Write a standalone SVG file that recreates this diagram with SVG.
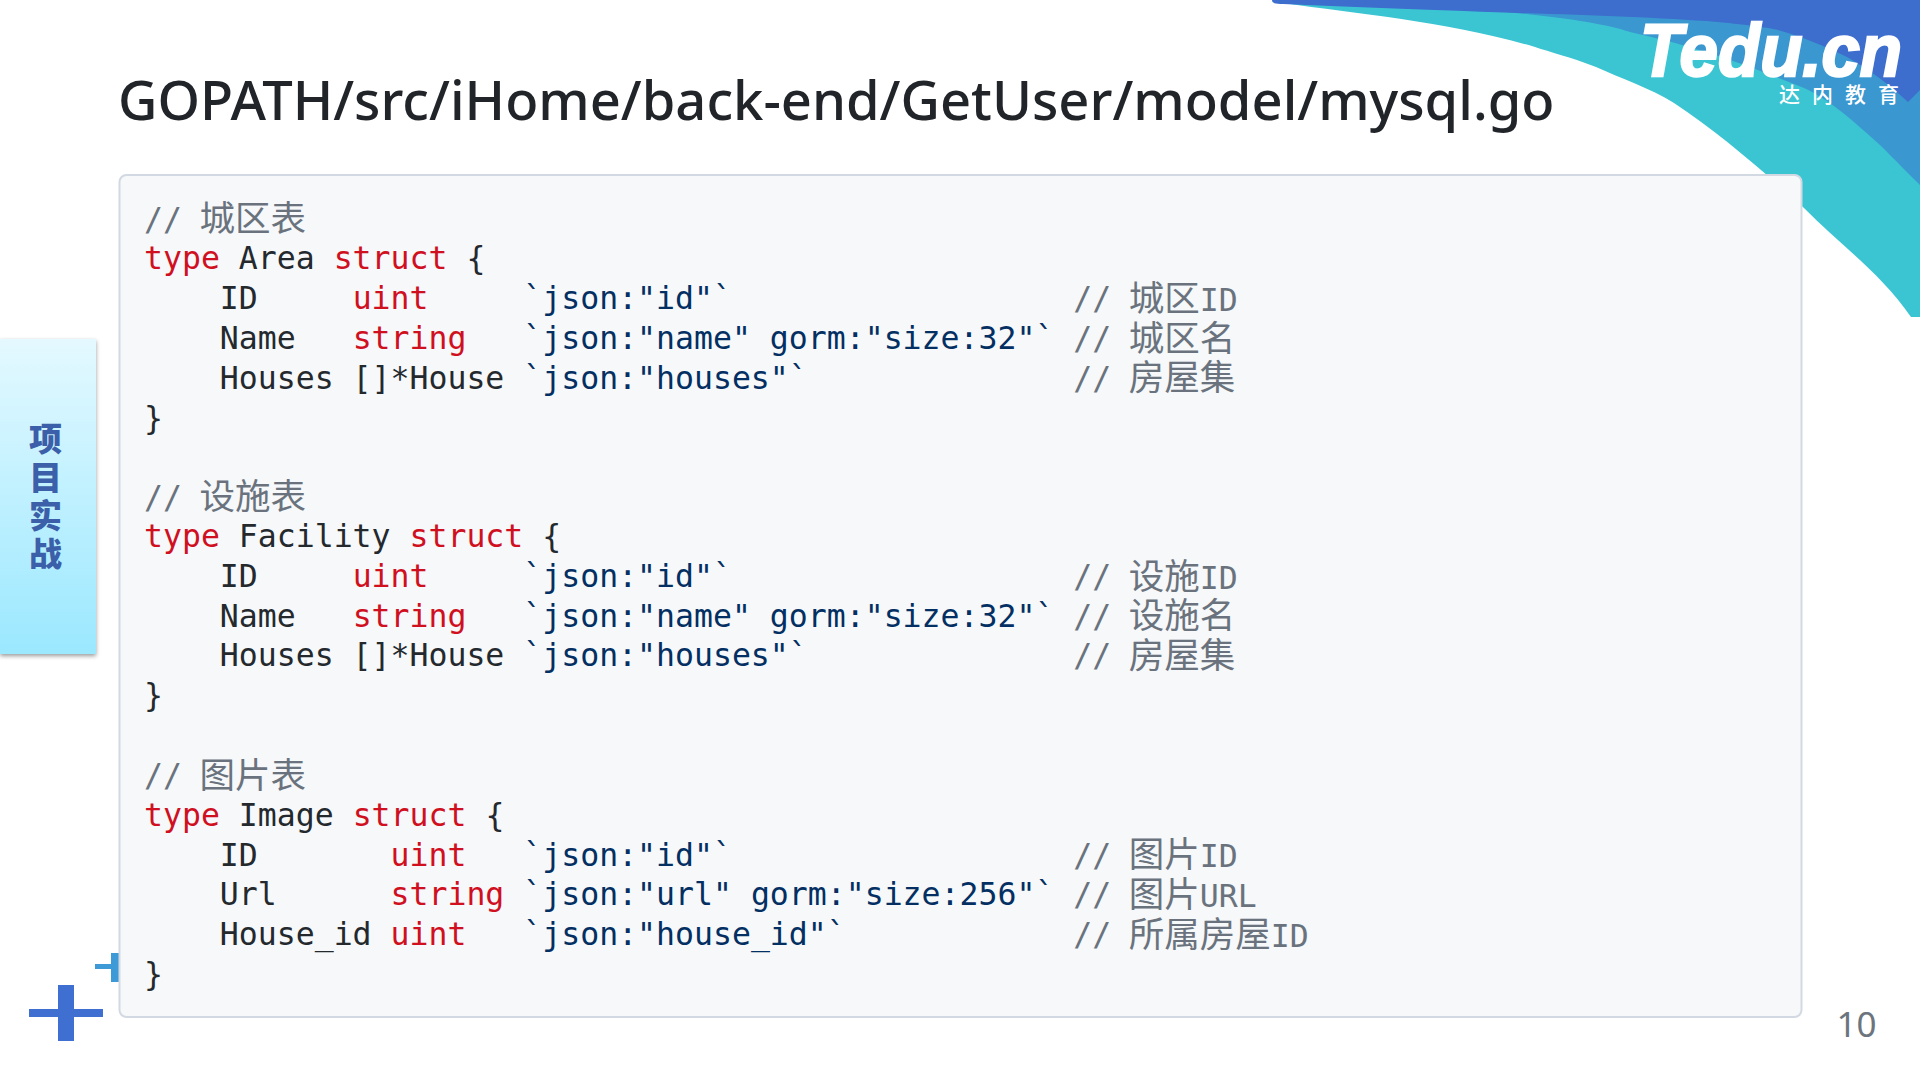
<svg xmlns="http://www.w3.org/2000/svg" width="1920" height="1080" viewBox="0 0 1920 1080">
<style>
.c{font-family:"DejaVu Sans Mono","Noto Sans CJK SC",monospace;font-size:31.5px;fill:#24292e;white-space:pre}
.k{fill:#d0101f}.s{fill:#032f62}.m{fill:#6a737d}
.z{font-family:"Noto Sans CJK SC",sans-serif;font-size:35.5px}
.sb{font-family:"Noto Sans CJK SC",sans-serif;font-weight:900;font-size:33px;fill:#3b5fa8;text-anchor:middle}
</style>
<defs>
<linearGradient id="g" x1="0" y1="0" x2="0" y2="1"><stop offset="0" stop-color="#e4f9ff"/><stop offset="1" stop-color="#9be8ff"/></linearGradient>
<filter id="sh" x="-20%" y="-5%" width="140%" height="110%"><feDropShadow dx="0" dy="2" stdDeviation="2" flood-color="#000" flood-opacity="0.4"/></filter>
</defs>
<rect width="1920" height="1080" fill="#fff"/>
<g id="ribbon">
<path d="M1272 0H1920V317H1911C1880 272 1840 245 1804 208C1760 168 1720 134 1674 103C1650 88 1620 78 1596 67C1570 57 1550 52 1535 47C1450 22 1360 14 1283 3Z" fill="#3bc5d2"/>
<path d="M1457 8C1540 14 1600 22 1630 32C1690 45 1740 62 1804 88C1830 100 1850 118 1880 145C1895 160 1910 175 1920 185V0H1457Z" fill="#3a97d0"/>
<path d="M1272 0C1272 3 1275 4 1283 4C1330 6 1380 8 1435 10C1540 14 1640 16 1717 22C1750 25 1770 28 1778 30C1800 36 1825 46 1847 57C1870 70 1890 85 1908 102L1920 90V0Z" fill="#3d6dcd"/>
</g>
<g id="logo">
<text x="1640" y="76" font-family="Liberation Sans,sans-serif" font-weight="700" font-style="italic" font-size="74" fill="#fff" stroke="#fff" stroke-width="2.500" textLength="262" lengthAdjust="spacingAndGlyphs">Tedu.cn</text>
<text y="102" font-family="Noto Sans CJK SC,sans-serif" font-size="21" font-weight="500" fill="#fff"><tspan x="1779">达</tspan><tspan x="1812">内</tspan><tspan x="1845">教</tspan><tspan x="1878">育</tspan></text>
</g>
<text id="title" x="118" y="120" font-family="Noto Sans,sans-serif" font-weight="500" font-size="54.270" fill="#212529">GOPATH/src/iHome/back-end/GetUser/model/mysql.go</text>
<g id="sidebar">
<rect x="0" y="339" width="96" height="315" fill="url(#g)" filter="url(#sh)"/>
<text class="sb" x="45.500" y="451">项</text>
<text class="sb" x="45.500" y="490">目</text>
<text class="sb" x="45.500" y="528">实</text>
<text class="sb" x="45.500" y="566">战</text>
</g>
<g id="plus">
<path d="M111 953h8v29h-8v-13H95v-5h16z" fill="#3d9ad6"/>
<path d="M58 985h16v24h29v8H74v24H58v-24H29v-8h29z" fill="#3f6fd0"/>
</g>
<g id="codebox">
<rect x="119.500" y="175" width="1682" height="842" rx="7" fill="#f6f8fa" stroke="#d3d9e2" stroke-width="2"/>
<text class="c" x="144" y="229.500"><tspan class="m">// <tspan class="z" dx="-1.400" dy="1.500">城区表</tspan></tspan></text>
<text class="c" x="144" y="269"><tspan class="k">type</tspan> Area <tspan class="k">struct</tspan> {</text>
<text class="c" x="144" y="309.200">    ID     <tspan class="k">uint</tspan>     <tspan class="s">`json:"id"`</tspan>                  <tspan class="m">// <tspan class="z" dx="-1.400" dy="1.500">城区</tspan>ID</tspan></text>
<text class="c" x="144" y="349">    Name   <tspan class="k">string</tspan>   <tspan class="s">`json:"name" gorm:"size:32"`</tspan> <tspan class="m">// <tspan class="z" dx="-1.400" dy="1.500">城区名</tspan></tspan></text>
<text class="c" x="144" y="388.700">    Houses []*House <tspan class="s">`json:"houses"`</tspan>              <tspan class="m">// <tspan class="z" dx="-1.400" dy="1.500">房屋集</tspan></tspan></text>
<text class="c" x="144" y="428.500">}</text>
<text class="c" x="144" y="507.900"><tspan class="m">// <tspan class="z" dx="-1.400" dy="1.500">设施表</tspan></tspan></text>
<text class="c" x="144" y="547.200"><tspan class="k">type</tspan> Facility <tspan class="k">struct</tspan> {</text>
<text class="c" x="144" y="587.400">    ID     <tspan class="k">uint</tspan>     <tspan class="s">`json:"id"`</tspan>                  <tspan class="m">// <tspan class="z" dx="-1.400" dy="1.500">设施</tspan>ID</tspan></text>
<text class="c" x="144" y="626.600">    Name   <tspan class="k">string</tspan>   <tspan class="s">`json:"name" gorm:"size:32"`</tspan> <tspan class="m">// <tspan class="z" dx="-1.400" dy="1.500">设施名</tspan></tspan></text>
<text class="c" x="144" y="666.400">    Houses []*House <tspan class="s">`json:"houses"`</tspan>              <tspan class="m">// <tspan class="z" dx="-1.400" dy="1.500">房屋集</tspan></tspan></text>
<text class="c" x="144" y="706">}</text>
<text class="c" x="144" y="786"><tspan class="m">// <tspan class="z" dx="-1.400" dy="1.500">图片表</tspan></tspan></text>
<text class="c" x="144" y="825.500"><tspan class="k">type</tspan> Image <tspan class="k">struct</tspan> {</text>
<text class="c" x="144" y="865.500">    ID       <tspan class="k">uint</tspan>   <tspan class="s">`json:"id"`</tspan>                  <tspan class="m">// <tspan class="z" dx="-1.400" dy="1.500">图片</tspan>ID</tspan></text>
<text class="c" x="144" y="905.300">    Url      <tspan class="k">string</tspan> <tspan class="s">`json:"url" gorm:"size:256"`</tspan> <tspan class="m">// <tspan class="z" dx="-1.400" dy="1.500">图片</tspan>URL</tspan></text>
<text class="c" x="144" y="945">    House_id <tspan class="k">uint</tspan>   <tspan class="s">`json:"house_id"`</tspan>            <tspan class="m">// <tspan class="z" dx="-1.400" dy="1.500">所属房屋</tspan>ID</tspan></text>
<text class="c" x="144" y="984.800">}</text>
</g>
<text id="page" x="1836.500" y="1037" font-family="Noto Sans,sans-serif" font-size="35" fill="#6c757d">10</text>
</svg>
